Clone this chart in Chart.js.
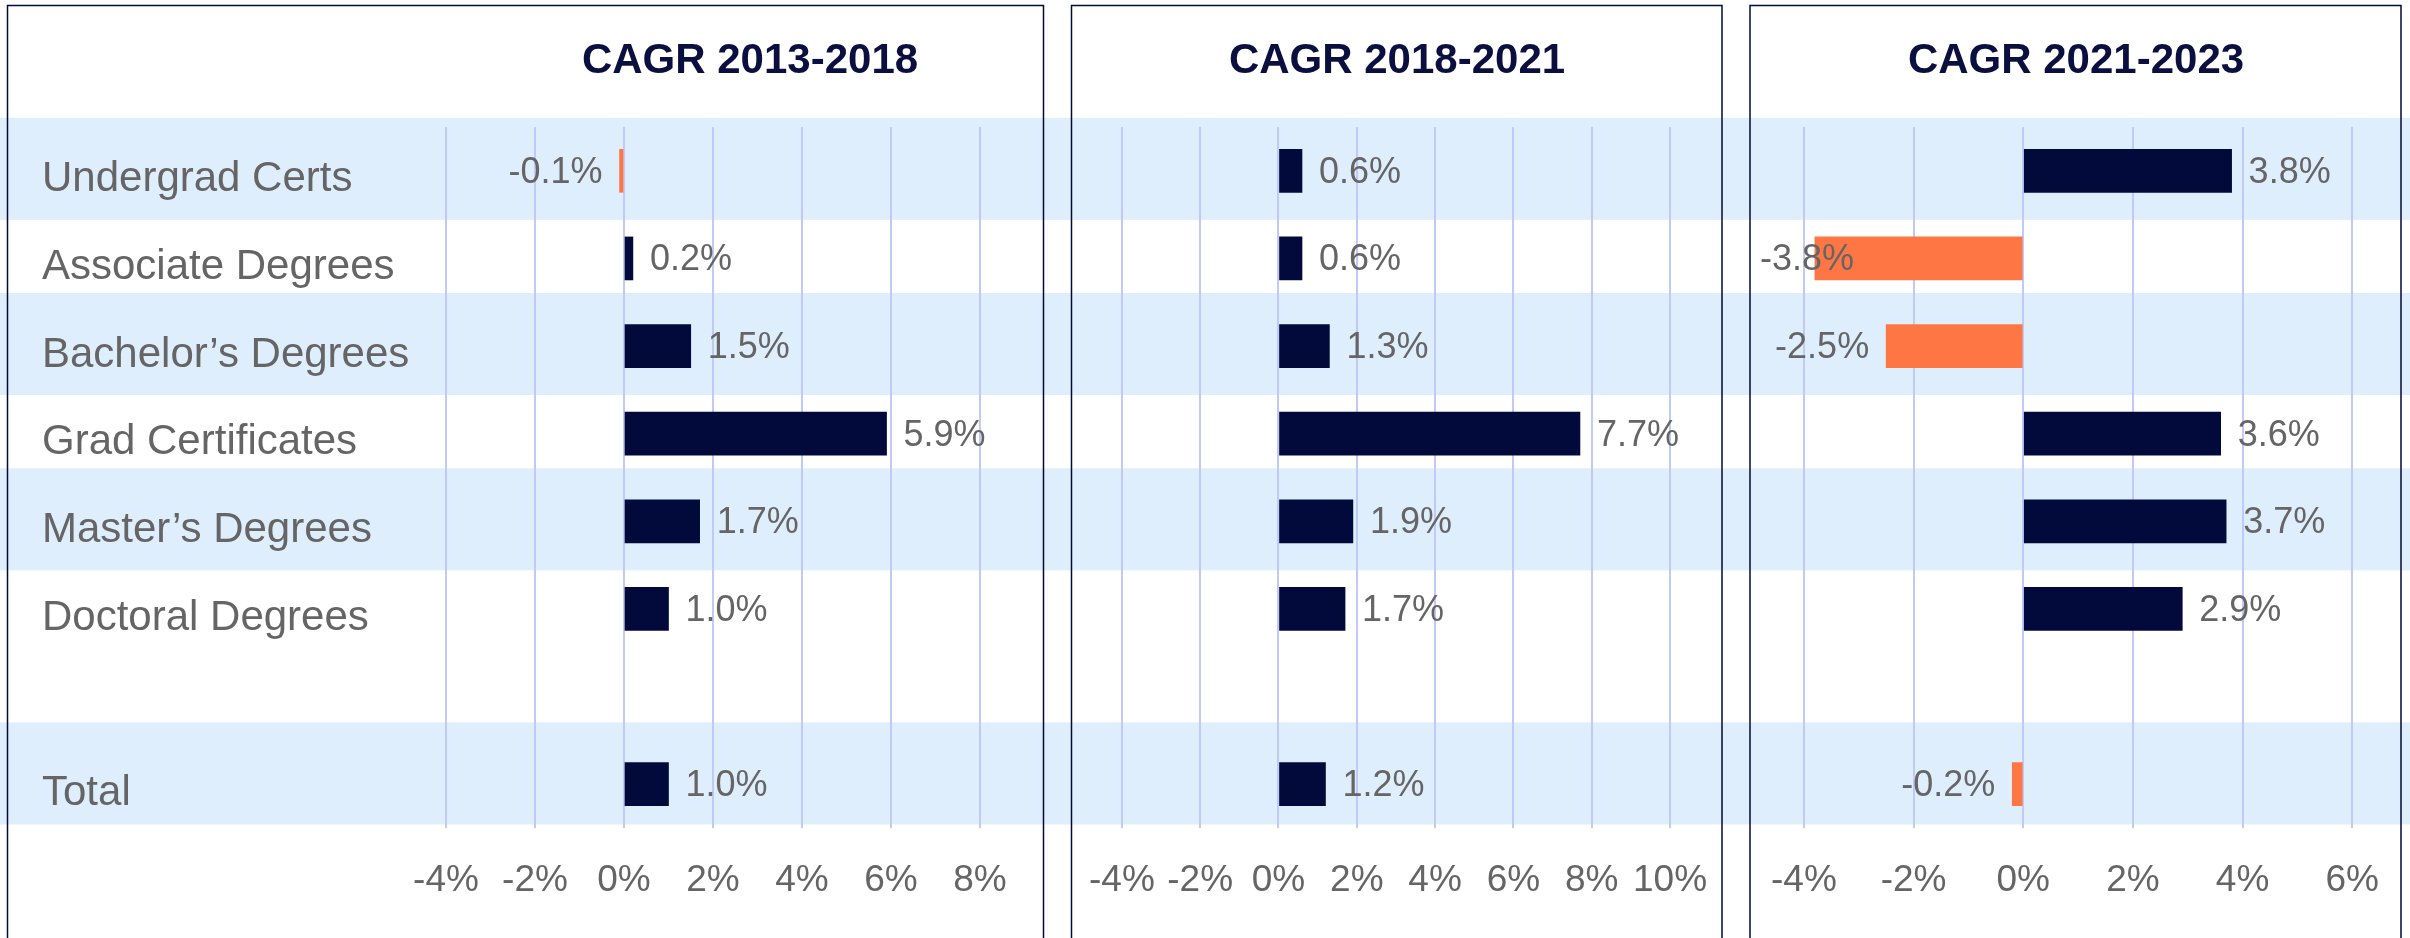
<!DOCTYPE html>
<html>
<head>
<meta charset="utf-8">
<script src="https://cdn.jsdelivr.net/npm/chart.js@4"></script>
<style>
  html, body { margin: 0; padding: 0; background: #ffffff; }
  body { position: relative; width: 2410px; height: 938px; overflow: hidden; }
  canvas { position: absolute; top: 0; }
</style>
</head>
<body>
<canvas id="c1" width="1058" height="938" style="left:0px"></canvas>
<canvas id="c2" width="682" height="938" style="left:1058px"></canvas>
<canvas id="c3" width="670" height="938" style="left:1740px"></canvas>
<script>
// categories (blank row separates the degree types from the total)
const categories = ['Undergrad Certs', 'Associate Degrees', 'Bachelor\u2019s Degrees', 'Grad Certificates',
    'Master\u2019s Degrees', 'Doctoral Degrees', '', 'Total'];

// CAGR values in %
const cagr2013_2018 = [-0.1, 0.2, 1.5, 5.9, 1.7, 1.0, null, 1.0];
const cagr2018_2021 = [0.6, 0.6, 1.3, 7.7, 1.9, 1.7, null, 1.2];
const cagr2021_2023 = [3.8, -3.8, -2.5, 3.6, 3.7, 2.9, null, -0.2];

const titles = ['CAGR 2013-2018', 'CAGR 2018-2021', 'CAGR 2021-2023'];
const axisMin = [-4, -4, -4];
const axisMax = [8, 10, 6];

// rows that get the light blue stripe (Total stripe sits a bit high)
const bandRows = [0, 2, 4, 6.9];

const NAVY = '#020a3b';
const ORANGE = '#ff7645';
const BAND = '#dfeefc';
const GRID = '#c0c9f7';
const GREY = '#656565';
const FONT = '"Liberation Sans", Arial, sans-serif';

// page layout for each panel: canvas left, panel frame left/right, title centre
const panels = [
    { id: 'c1', left: 0,    frame: [7.5, 1043.5],   titleX: 750,  pad: { left: 42, right: 78 },  showCats: true },
    { id: 'c2', left: 1058, frame: [1071.5, 1722],  titleX: 1397, pad: { left: 62, right: 70 },  showCats: false },
    { id: 'c3', left: 1740, frame: [1750, 2401],    titleX: 2076, pad: { left: 58, right: 52 },  showCats: false }
];

const bandPlugin = {
    id: 'bands',
    beforeDraw(chart) {
        const ctx = chart.ctx;
        const y = chart.scales.y;
        const step = y.getPixelForValue(1) - y.getPixelForValue(0);
        const h = step * 1.165;
        ctx.save();
        ctx.fillStyle = BAND;
        bandRows.forEach(r => {
            const cy = y.getPixelForValue(r) - 2;
            ctx.fillRect(0, cy - h / 2, chart.width, h);
        });
        ctx.restore();
    }
};

const framePlugin = {
    id: 'frame',
    afterDraw(chart, args, opts) {
        const ctx = chart.ctx;
        const l = opts.frame[0] - opts.left;
        const r = opts.frame[1] - opts.left;
        ctx.save();
        ctx.strokeStyle = NAVY;
        ctx.lineWidth = 1.5;
        ctx.beginPath();
        ctx.moveTo(l, chart.height + 5);
        ctx.lineTo(l, 5.5);
        ctx.lineTo(r, 5.5);
        ctx.lineTo(r, chart.height + 5);
        ctx.stroke();
        // title
        ctx.fillStyle = '#0a0f40';
        ctx.font = 'bold 42px ' + FONT;
        ctx.textAlign = 'center';
        ctx.textBaseline = 'middle';
        ctx.fillText(opts.title, opts.titleX - opts.left, 61);
        ctx.restore();
    }
};

const valueLabels = {
    id: 'valueLabels',
    afterDatasetsDraw(chart, args, opts) {
        const ctx = chart.ctx;
        const meta = chart.getDatasetMeta(0);
        const data = chart.data.datasets[0].data;
        const minLeft = opts.frame[0] - opts.left + 10;
        ctx.save();
        ctx.font = '36px ' + FONT;
        ctx.fillStyle = GREY;
        ctx.textBaseline = 'middle';
        meta.data.forEach((bar, i) => {
            const v = data[i];
            if (v === null || v === undefined) return;
            const txt = v.toFixed(1) + '%';
            const w = ctx.measureText(txt).width;
            if (v >= 0) {
                ctx.textAlign = 'left';
                ctx.fillText(txt, bar.x + 17, bar.y + 2);
            } else {
                let x = bar.x - 17 - w;
                if (x < minLeft) x = minLeft;
                ctx.textAlign = 'left';
                ctx.fillText(txt, x, bar.y + 2);
            }
        });
        ctx.restore();
    }
};

const seriesList = [cagr2013_2018, cagr2018_2021, cagr2021_2023];

panels.forEach((p, k) => {
    new Chart(document.getElementById(p.id), {
        type: 'bar',
        data: {
            labels: categories,
            datasets: [{
                data: seriesList[k],
                backgroundColor: c => (c.raw < 0 ? ORANGE : NAVY),
                barThickness: 43,
                borderWidth: 0
            }]
        },
        options: {
            indexAxis: 'y',
            responsive: false,
            animation: false,
            devicePixelRatio: 1,
            layout: { padding: { top: 127, bottom: 0, left: p.pad.left, right: p.pad.right } },
            plugins: {
                legend: { display: false },
                tooltip: { enabled: false },
                title: { display: false },
                frame: { frame: p.frame, left: p.left, title: titles[k], titleX: p.titleX },
                valueLabels: { frame: p.frame, left: p.left }
            },
            scales: {
                x: {
                    type: 'linear',
                    min: axisMin[k],
                    max: axisMax[k],
                    afterFit: s => { s.height = 110; },
                    grid: { color: GRID, lineWidth: 2, drawTicks: false },
                    border: { display: false },
                    ticks: {
                        stepSize: 2,
                        padding: 31,
                        color: GREY,
                        font: { family: FONT, size: 37 },
                        maxRotation: 0,
                        callback: v => v + '%'
                    }
                },
                y: {
                    display: p.showCats,
                    afterFit: s => { if (p.showCats) s.width = 404; },
                    grid: { display: false },
                    border: { display: false },
                    ticks: {
                        crossAlign: 'far',
                        padding: 0,
                        labelOffset: 9,
                        color: GREY,
                        font: { family: FONT, size: 42 },
                        autoSkip: false
                    }
                }
            }
        },
        plugins: [bandPlugin, framePlugin, valueLabels]
    });
});
</script>
</body>
</html>
